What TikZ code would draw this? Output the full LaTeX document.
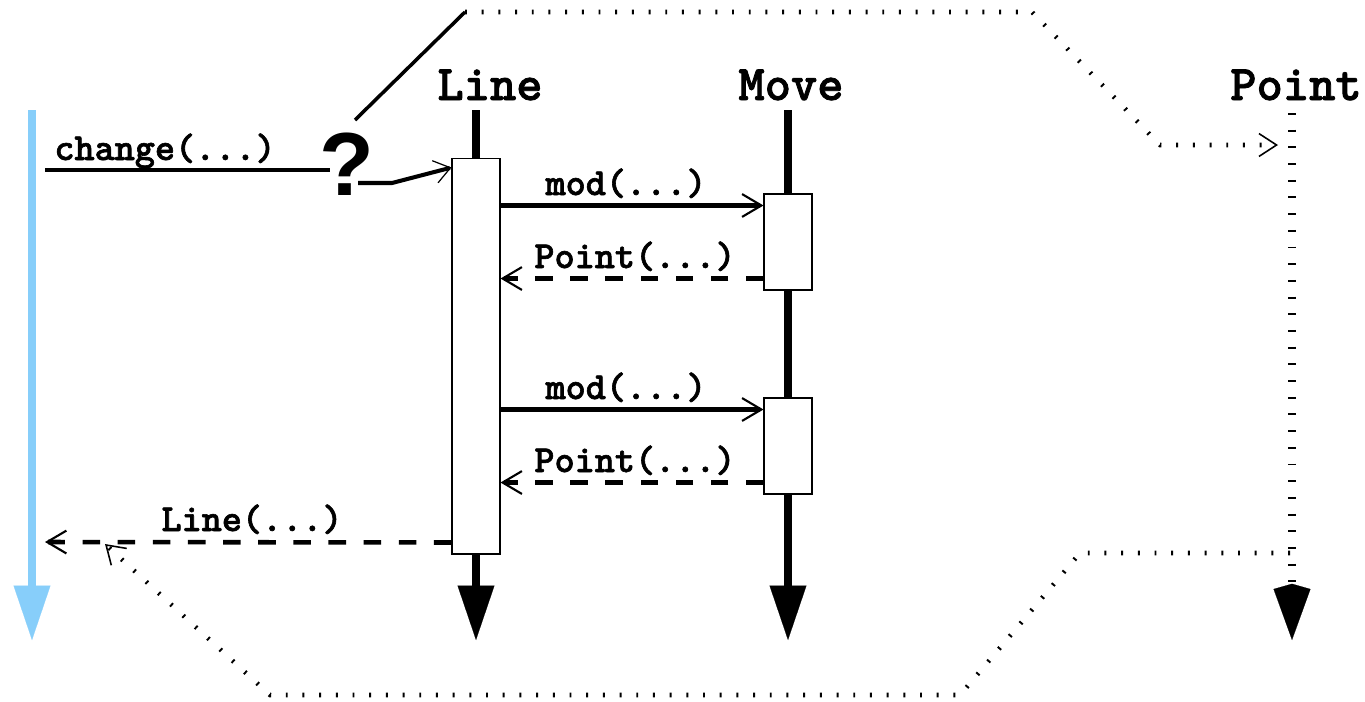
\documentclass[tikz,border=0pt]{standalone}
\usepackage{fontspec}
\setmainfont{Liberation Sans}
\newfontfamily\codefont{lmmonolt10-bold.otf}[FakeBold=1.6]
\usepackage{xcolor}
\usetikzlibrary{arrows.meta,positioning,calc}
\definecolor{callerblue}{HTML}{87CEFA}

\begin{document}
\begin{tikzpicture}[
    x=0.02cm, y=-0.02cm,
    head/.style={font=\codefont\fontsize{28.5}{28.5}\selectfont, inner sep=0pt, anchor=base},
    msgtext/.style={font=\codefont\fontsize{21.8}{21.8}\selectfont, inner sep=0pt, anchor=base},
    lifeline/.style={line width=4.6pt, -{Triangle[length=31pt,width=21pt,line width=0.1pt]}},
    act/.style={draw, fill=white, line width=0.6pt, minimum width=0.96cm, inner sep=0pt},
    call/.style={line width=2.3pt, -{Straight Barb[length=11pt,width=13pt,line width=1.2pt]}},
    reply/.style={call, line width=2.6pt, dash pattern=on 10pt off 10pt},
    flow/.style={line width=2.6pt, dash pattern=on 1.1pt off 8.4pt, -{Straight Barb[length=10pt,width=13pt,line width=0.9pt]}}
]
\useasboundingbox (0,0) rectangle (1365,701);

% object heads
\node[head] (lineH) at (490,100) {Line};
\node[head] (moveH) at (791,100) {Move};
\node[head] (pointH) at (1296,100) {Point};

% lifelines
\coordinate (callerTop) at (32,110);
\coordinate (callerEnd) at (32,640);
\coordinate (lineTop) at (476,110);
\coordinate (lineEnd) at (476,640);
\coordinate (moveTop) at (788,110);
\coordinate (moveEnd) at (788,640);
\coordinate (pointTop) at (1292,113);
\coordinate (pointEnd) at (1292,640);
\draw[lifeline, callerblue] (callerTop) -- (callerEnd);
\draw[lifeline] (lineTop) -- (lineEnd);
\draw[lifeline] (moveTop) -- (moveEnd);
\draw[lifeline, dash pattern=on 1.1pt off 8.4pt, -{Kite[length=32pt,width=21pt,inset=3pt,line width=0.1pt]}] (pointTop) -- (pointEnd);

% activations
\node[act, minimum height=7.92cm] (lineAct) at (476,356) {};
\node[act, minimum height=1.92cm] (moveA) at (788,242) {};
\node[act, minimum height=1.92cm] (moveB) at (788,446) {};

% incoming call through the question mark
\node[font=\bfseries\fontsize{51}{51}\selectfont, inner sep=0pt, anchor=base] (query) at (347,195) {?};
\coordinate (src) at (45,170);
\coordinate (qIn) at (330,170);
\coordinate (qOut) at (358,183);
\coordinate (qKnee) at (392,183);
\coordinate (qTop) at (355,120);
\coordinate (bendA) at (465,12);
\draw[line width=2.3pt] (src) -- (qIn);
\draw[line width=2.3pt, -{Straight Barb[length=9pt,width=13pt,line width=0.7pt]}]
    (qOut) -- (qKnee) -- ($(lineAct.north west)+(0,10)$);
\node[msgtext] (changeL) at (165,160) {change(...)};

% calls to Move and their replies
\coordinate (modA) at ($(moveA.north west)+(0,12)$);
\coordinate (retA) at ($(moveA.south west)+(0,-12)$);
\coordinate (modB) at ($(moveB.north west)+(0,12)$);
\coordinate (retB) at ($(moveB.south west)+(0,-12)$);
\draw[call] (modA -| lineAct.east) -- (modA);
\draw[reply] (retA) -- (retA -| lineAct.east);
\draw[call] (modB -| lineAct.east) -- (modB);
\draw[reply] (retB) -- (retB -| lineAct.east);
\node[msgtext] (modAL) at (626,195) {mod(...)};
\node[msgtext] (retAL) at (635,268) {Point(...)};
\node[msgtext] (modBL) at (626,399) {mod(...)};
\node[msgtext] (retBL) at (635,472) {Point(...)};

% reply back to the caller
\coordinate (lineRet) at ($(lineAct.south west)+(0,-12)$);
\coordinate (callerHit) at (45,542);
\draw[reply] (lineRet) -- (callerHit);
\node[msgtext] (lineRetL) at (252,531) {Line(...)};

% dotted paths to and from Point
\coordinate (pointIn) at (1278,145);
\coordinate (pointOut) at (1290,553);
\coordinate (retHit) at (105,544);
\draw[line width=2pt] (qTop) -- (bendA);
\draw[flow] (bendA) -- (1032,12) -- (1160,145) -- (pointIn);
\draw[flow] (pointOut) -- (1080,553) -- (960,695) -- (270,695) -- (retHit);
\end{tikzpicture}
\end{document}
